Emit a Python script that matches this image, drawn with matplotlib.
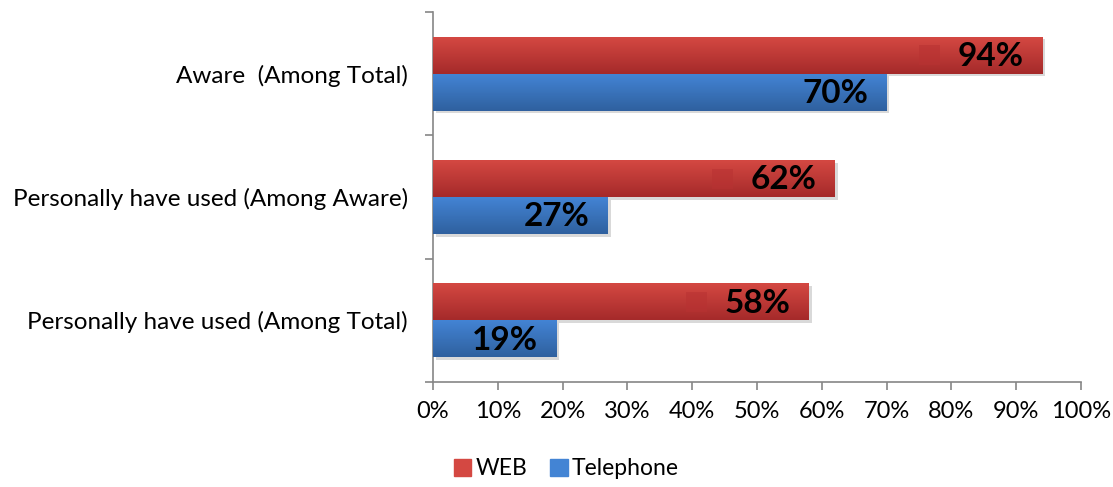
import matplotlib
matplotlib.use("Agg")
import matplotlib.pyplot as plt
import matplotlib.patheffects as pe
import numpy as np
from matplotlib.colors import LinearSegmentedColormap
from matplotlib.patches import Rectangle

plt.rcParams["font.family"] = ["Lato", "DejaVu Sans"]

categories = [
    "Personally have used (Among Total)",
    "Personally have used (Among Aware)",
    "Aware  (Among Total)",
]
web = [58, 62, 94]
telephone = [19, 27, 70]
series = [("WEB", web), ("Telephone", telephone)]

# top/bottom colours of the vertical bar gradients
RED_TOP, RED_BOT = "#d44842", "#a52a2a"
BLUE_TOP, BLUE_BOT = "#4384d4", "#2f609f"
AXIS_GREY = "#868686"

fig = plt.figure(figsize=(11.13, 4.87), dpi=100)
ax = fig.add_axes([433 / 1113, 1 - 382 / 487, (1081 - 433) / 1113, (382 - 12) / 487])

y = np.arange(len(categories))
h = 0.3
shadow = [pe.SimplePatchShadow(offset=(2, -2), shadow_rgbFace="#000000", alpha=0.15), pe.Normal()]
web_bars = ax.barh(y + h / 2, web, height=h, color=RED_TOP, label="WEB", zorder=2)
tel_bars = ax.barh(y - h / 2, telephone, height=h, color=BLUE_TOP, label="Telephone", zorder=2)

grad = np.linspace(0, 1, 64).reshape(-1, 1)
for bars, top, bot in [(web_bars, RED_TOP, RED_BOT), (tel_bars, BLUE_TOP, BLUE_BOT)]:
    cmap = LinearSegmentedColormap.from_list("g", [bot, top])
    for bar in bars:
        bar.set_path_effects(shadow)
        x0, y0 = bar.get_x(), bar.get_y()
        w, bh = bar.get_width(), bar.get_height()
        ax.imshow(grad, extent=(x0, x0 + w, y0, y0 + bh), origin="lower",
                  cmap=cmap, aspect="auto", zorder=3, interpolation="bicubic")

ax.set_xlim(0, 100)
ax.set_ylim(-0.5, len(categories) - 0.5)

labels = []
for bars, vals in [(web_bars, web), (tel_bars, telephone)]:
    for bar, v in zip(bars, vals):
        t = ax.annotate(f"{v}%", (v, bar.get_y() + bar.get_height() / 2),
                        xytext=(-13, -1), textcoords="offset points",
                        ha="right", va="center", fontsize=24, fontweight="bold",
                        color="black", zorder=5)
        labels.append((t, bars is web_bars, bar))

# small key square sitting left of each WEB value label
fig.canvas.draw()
renderer = fig.canvas.get_renderer()
inv = ax.transData.inverted()
for t, is_web, bar in labels:
    if not is_web:
        continue
    bb = t.get_window_extent(renderer)
    cy = ax.transData.transform((0, bar.get_y() + bar.get_height() / 2))[1]
    (x0, y0) = inv.transform((bb.x0 - 39, cy - 10))
    (x1, y1) = inv.transform((bb.x0 - 18, cy + 10))
    ax.add_patch(Rectangle((x0, y0), x1 - x0, y1 - y0, color="#b83232", alpha=0.55,
                           lw=0, zorder=4))

ax.set_xticks(np.arange(0, 101, 10))
ax.set_xticklabels([f"{v}%" for v in range(0, 101, 10)])
ax.set_yticks(y)
ax.set_yticklabels(categories)
ax.set_yticks(np.arange(-0.5, len(categories), 1), minor=True)
ax.tick_params(axis="y", which="major", length=0, pad=18, labelsize=17.5)
ax.tick_params(axis="y", which="minor", length=6, color=AXIS_GREY, width=1.2)
ax.tick_params(axis="x", length=6, color=AXIS_GREY, width=1.2, pad=8, labelsize=17)

for side in ["top", "right"]:
    ax.spines[side].set_visible(False)
for side in ["left", "bottom"]:
    ax.spines[side].set_color(AXIS_GREY)
    ax.spines[side].set_linewidth(1.2)

handles = [Rectangle((0, 0), 1, 1, color=RED_TOP), Rectangle((0, 0), 1, 1, color=BLUE_TOP)]
fig.legend(handles, [s[0] for s in series], loc="center", bbox_to_anchor=(0.509, 0.037),
           ncol=2, frameon=False, fontsize=16.5, handlelength=0.75, handleheight=0.75,
           handletextpad=0.2, columnspacing=1.0)

fig.savefig("out.png", dpi=100)
